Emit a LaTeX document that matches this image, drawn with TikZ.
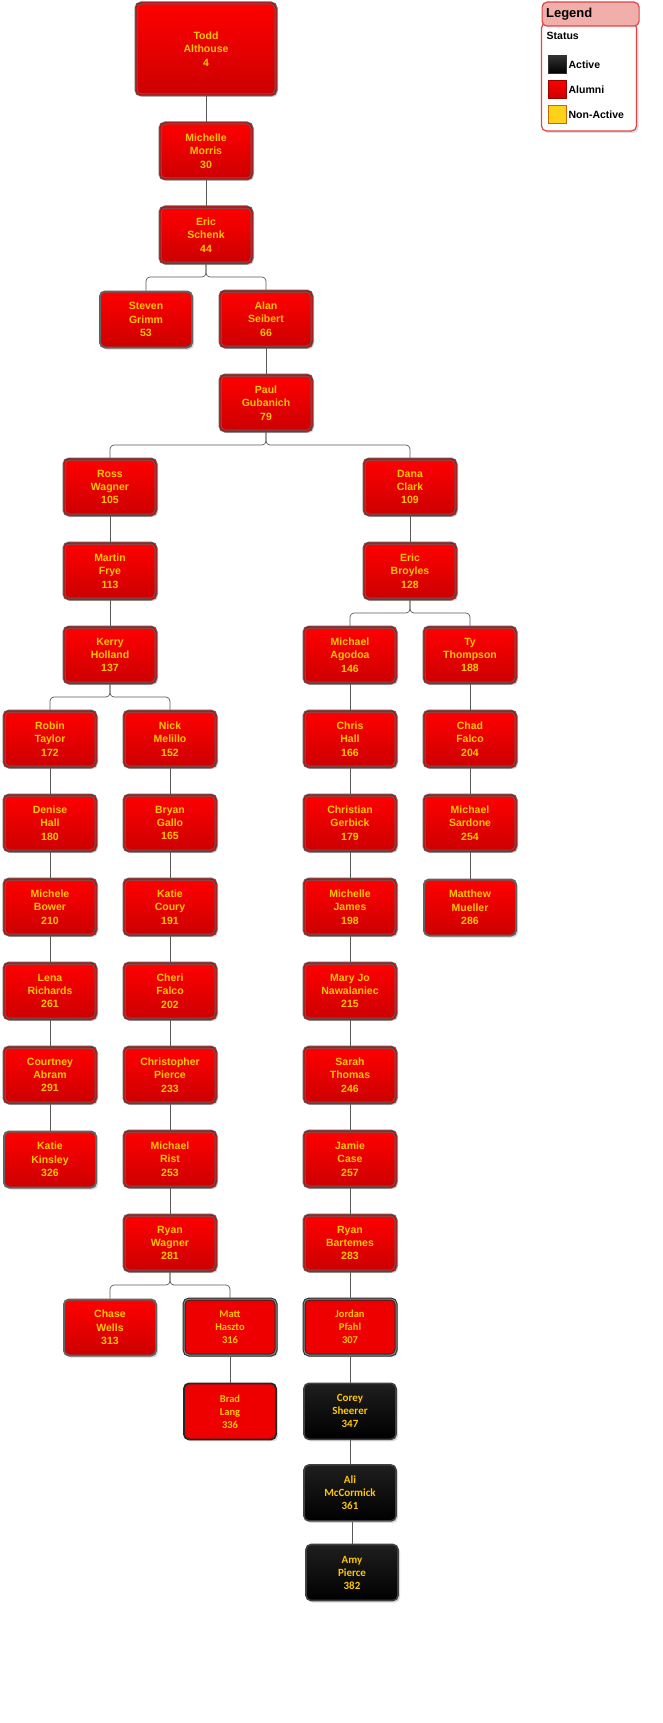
\documentclass[tikz,border=0pt]{standalone}
\usepackage{fontspec}
\setmainfont{Liberation Sans}
\newfontfamily\calfont{Carlito}
\usetikzlibrary{positioning, shadows, calc}

\definecolor{namegold}{HTML}{FFC600}
\definecolor{curred}{HTML}{EE0000}
\definecolor{legred}{HTML}{DC4646}
\definecolor{legpink}{HTML}{F1AEAB}
\definecolor{keyyellow}{HTML}{FFD21A}

\begin{document}
\begin{tikzpicture}[
        node distance=27pt and 27pt,
        namebox/.style={rectangle, rounded corners=5pt, minimum width=92pt, minimum height=56pt, align=center, text=namegold, inner sep=1pt, drop shadow={opacity=0.3, shadow xshift=2pt, shadow yshift=-2pt}},
        leafbox/.style={namebox, draw=black!62, line width=2pt, top color=red, bottom color=red!80!black, font=\bfseries\fontsize{10.5}{13.3}\selectfont},
        parentbox/.style={leafbox, line width=1pt, double=red!80!black, double distance=1pt},
        curbox/.style={namebox, draw=black!85, line width=1.8pt, fill=curred, font=\calfont\bfseries\fontsize{10.5}{13}\selectfont},
        curpbox/.style={curbox, line width=1pt, double=black!45, double distance=1pt},
        blackbox/.style={namebox, draw=black!75, line width=1.6pt, top color=black!88, bottom color=black, font=\calfont\bfseries\fontsize{11}{13}\selectfont},
        link/.style={draw=black!65, line width=0.7pt},
        split/.style={link, rounded corners=4pt},
        keybox/.style={rectangle, minimum size=18pt, inner sep=0pt, line width=0.8pt},
        keylabel/.style={font=\bfseries\fontsize{10.5}{12}\selectfont, inner sep=0pt},
    ]
        \path[use as bounding box, fill=white] (0,0) rectangle (663pt,-1723pt);

        % Top of the tree
        \node[parentbox, minimum width=140pt, minimum height=92pt] (todd) at (206pt,-49pt) {Todd\\Althouse\\4};
        \node[parentbox, below=of todd] (mmorris) {Michelle\\Morris\\30};
        \node[parentbox, below=of mmorris] (eschenk) {Eric\\Schenk\\44};
        \node[leafbox, below=of eschenk, xshift=-60pt] (sgrimm) {Steven\\Grimm\\53};
        \node[parentbox, below=of eschenk, xshift=60pt] (aseibert) {Alan\\Seibert\\66};
        \node[parentbox, below=of aseibert] (pgubanich) {Paul\\Gubanich\\79};

        % Left branch
        \node[parentbox, below=of pgubanich, xshift=-156pt] (rwagner) {Ross\\Wagner\\105};
        \node[parentbox, below=of rwagner] (mfrye) {Martin\\Frye\\113};
        \node[parentbox, below=of mfrye] (kholland) {Kerry\\Holland\\137};
        \node[parentbox, below=of kholland, xshift=-60pt] (rtaylor) {Robin\\Taylor\\172};
        \node[parentbox, below=of rtaylor] (dhall) {Denise\\Hall\\180};
        \node[parentbox, below=of dhall] (mbower) {Michele\\Bower\\210};
        \node[parentbox, below=of mbower] (lrichards) {Lena\\Richards\\261};
        \node[parentbox, below=of lrichards] (cabram) {Courtney\\Abram\\291};
        \node[leafbox, below=of cabram] (kkinsley) {Katie\\Kinsley\\326};
        \node[parentbox, below=of kholland, xshift=60pt] (nmelillo) {Nick\\Melillo\\152};
        \node[parentbox, below=of nmelillo] (bgallo) {Bryan\\Gallo\\165};
        \node[parentbox, below=of bgallo] (kcoury) {Katie\\Coury\\191};
        \node[parentbox, below=of kcoury] (chfalco) {Cheri\\Falco\\202};
        \node[parentbox, below=of chfalco] (cpierce) {Christopher\\Pierce\\233};
        \node[parentbox, below=of cpierce] (mrist) {Michael\\Rist\\253};
        \node[parentbox, below=of mrist] (rywagner) {Ryan\\Wagner\\281};
        \node[leafbox, below=of rywagner, xshift=-60pt] (cwells) {Chase\\Wells\\313};
        \node[curpbox, below=of rywagner, xshift=60pt] (mhaszto) {Matt\\Haszto\\316};
        \node[curbox, below=of mhaszto] (blang) {Brad\\Lang\\336};

        % Right branch
        \node[parentbox, below=of pgubanich, xshift=144pt] (dclark) {Dana\\Clark\\109};
        \node[parentbox, below=of dclark] (ebroyles) {Eric\\Broyles\\128};
        \node[parentbox, below=of ebroyles, xshift=-60pt] (magodoa) {Michael\\Agodoa\\146};
        \node[parentbox, below=of magodoa] (chall) {Chris\\Hall\\166};
        \node[parentbox, below=of chall] (cgerbick) {Christian\\Gerbick\\179};
        \node[parentbox, below=of cgerbick] (mjames) {Michelle\\James\\198};
        \node[parentbox, below=of mjames] (mjnawalaniec) {Mary Jo\\Nawalaniec\\215};
        \node[parentbox, below=of mjnawalaniec] (sthomas) {Sarah\\Thomas\\246};
        \node[parentbox, below=of sthomas] (jcase) {Jamie\\Case\\257};
        \node[parentbox, below=of jcase] (rbartemes) {Ryan\\Bartemes\\283};
        \node[curpbox, below=of rbartemes] (jpfahl) {Jordan\\Pfahl\\307};
        \node[blackbox, below=of jpfahl] (csheerer) {Corey\\Sheerer\\347};
        \node[blackbox, below=24pt of csheerer] (amccormick) {Ali\\McCormick\\361};
        \node[blackbox, below=22pt of amccormick, xshift=2pt] (apierce) {Amy\\Pierce\\382};
        \node[parentbox, below=of ebroyles, xshift=60pt] (tthompson) {Ty\\Thompson\\188};
        \node[parentbox, below=of tthompson] (cdfalco) {Chad\\Falco\\204};
        \node[parentbox, below=of cdfalco] (msardone) {Michael\\Sardone\\254};
        \node[leafbox, below=of msardone] (mmueller) {Matthew\\Mueller\\286};

        % Straight links
        \draw[link] (todd) -- (mmorris);
        \draw[link] (mmorris) -- (eschenk);
        \draw[link] (aseibert) -- (pgubanich);
        \draw[link] (rwagner) -- (mfrye);
        \draw[link] (mfrye) -- (kholland);
        \draw[link] (rtaylor) -- (dhall);
        \draw[link] (dhall) -- (mbower);
        \draw[link] (mbower) -- (lrichards);
        \draw[link] (lrichards) -- (cabram);
        \draw[link] (cabram) -- (kkinsley);
        \draw[link] (nmelillo) -- (bgallo);
        \draw[link] (bgallo) -- (kcoury);
        \draw[link] (kcoury) -- (chfalco);
        \draw[link] (chfalco) -- (cpierce);
        \draw[link] (cpierce) -- (mrist);
        \draw[link] (mrist) -- (rywagner);
        \draw[link] (mhaszto) -- (blang);
        \draw[link] (dclark) -- (ebroyles);
        \draw[link] (magodoa) -- (chall);
        \draw[link] (chall) -- (cgerbick);
        \draw[link] (cgerbick) -- (mjames);
        \draw[link] (mjames) -- (mjnawalaniec);
        \draw[link] (mjnawalaniec) -- (sthomas);
        \draw[link] (sthomas) -- (jcase);
        \draw[link] (jcase) -- (rbartemes);
        \draw[link] (rbartemes) -- (jpfahl);
        \draw[link] (jpfahl) -- (csheerer);
        \draw[link] (csheerer) -- (amccormick);
        \draw[link] (amccormick.south -| apierce.north) -- (apierce.north);
        \draw[link] (tthompson) -- (cdfalco);
        \draw[link] (cdfalco) -- (msardone);
        \draw[link] (msardone) -- (mmueller);

        % Splits
        \draw[split] (eschenk.south) -- ++(0,-13.5pt) -| (sgrimm.north);
        \draw[split] (eschenk.south) -- ++(0,-13.5pt) -| (aseibert.north);
        \draw[split] (pgubanich.south) -- ++(0,-13.5pt) -| (rwagner.north);
        \draw[split] (pgubanich.south) -- ++(0,-13.5pt) -| (dclark.north);
        \draw[split] (kholland.south) -- ++(0,-13.5pt) -| (rtaylor.north);
        \draw[split] (kholland.south) -- ++(0,-13.5pt) -| (nmelillo.north);
        \draw[split] (rywagner.south) -- ++(0,-13.5pt) -| (cwells.north);
        \draw[split] (rywagner.south) -- ++(0,-13.5pt) -| (mhaszto.north);
        \draw[split] (ebroyles.south) -- ++(0,-13.5pt) -| (magodoa.north);
        \draw[split] (ebroyles.south) -- ++(0,-13.5pt) -| (tthompson.north);

        % Legend
        \node[rectangle, rounded corners=5pt, draw=legred, line width=1.2pt, fill=white, minimum width=95pt, minimum height=108pt, drop shadow={opacity=0.25, shadow xshift=2pt, shadow yshift=-2pt}] (legbody) at (589pt,-77pt) {};
        \node[rectangle, rounded corners=5pt, draw=legred, line width=1.2pt, fill=legpink, minimum width=95pt, minimum height=24pt, anchor=north west, font=\bfseries\fontsize{13}{15}\selectfont, align=left, text width=89pt, inner xsep=4pt] (leghead) at (541.5pt,-1.5pt) {Legend};
        \node[keylabel, anchor=west] (status) at (546.5pt,-36pt) {Status};
        \node[keybox, draw=black!80, top color=black!80, bottom color=black] (kactive) at (557pt,-64.5pt) {};
        \node[keybox, draw=red!60!black, top color=red, bottom color=red!80!black] (kalumni) at (557pt,-89.5pt) {};
        \node[keybox, draw=orange!80!black, fill=keyyellow] (knonactive) at (557pt,-114.5pt) {};
        \node[keylabel, right=2pt of kactive] (lactive) {Active};
        \node[keylabel, right=2pt of kalumni] (lalumni) {Alumni};
        \node[keylabel, right=2pt of knonactive] (lnonactive) {Non-Active};
    \end{tikzpicture}
\end{document}
